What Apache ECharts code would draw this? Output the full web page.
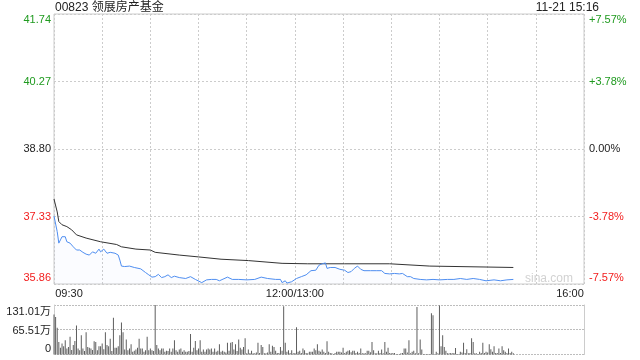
<!DOCTYPE html>
<html>
<head>
<meta charset="utf-8">
<script src="https://cdn.jsdelivr.net/npm/echarts@6/dist/echarts.min.js"></script>
<style>html,body{margin:0;padding:0;background:#fff}#c{width:640px;height:360px}</style>
</head>
<body>
<div id="c"></div>
<script>
// ---- data ----
const titleText = '00823 领展房产基金';
const timeStamp = '11-21 15:16';
const prevClose = 38.80;
const priceTicks = [35.86, 37.33, 38.80, 40.27, 41.74];
const pctLabels = ['-7.57%', '-3.78%', '0.00%', '+3.78%', '+7.57%'];
const timeTickMins = [0, 150, 330];
const timeLabels = ['09:30', '12:00/13:00', '16:00'];
const volTicks = [0, 65.51, 131.01];
const volLabels = ['0', '65.51万', '131.01万'];

// minutes since 09:30 (trading minutes, lunch removed)
const priceT = [0,2,3,4,5,6,7,8,10,12,14,16,18,20,22,24,26,28,29,31,33,35,38,40,41,42,44,47,50,54,57,59,61,63,65,67,69,71,73,75,78,82,85,88,92,95,98,101,103,108,111,115,120,125,129,133,138,141,142,144,145,148,151,154,157,160,163,165,167,169,170,172,175,178,181,183,185,187,189,191,193,197,201,204,206,209,212,215,217,220,222,224,228,232,236,240,245,249,253,257,261,265,269,274,278,282,286];
const priceV = [37.34,37.00,36.75,36.82,36.89,36.86,36.89,36.78,36.75,36.67,36.60,36.60,36.55,36.51,36.49,36.56,36.53,36.62,36.56,36.62,36.53,36.55,36.53,36.49,36.38,36.25,36.24,36.25,36.22,36.19,36.11,36.06,36.01,36.02,36.07,36.00,36.02,36.06,36.00,36.03,36.00,35.98,36.02,35.96,35.89,35.95,35.96,35.96,35.93,36.01,35.96,35.96,35.95,35.96,36.01,35.98,35.96,35.96,35.89,35.93,35.88,35.91,35.98,36.02,36.06,36.15,36.16,36.27,36.30,36.32,36.20,36.22,36.22,36.18,36.16,36.11,36.13,36.20,36.25,36.18,36.15,36.15,36.15,36.15,36.09,36.08,36.09,36.08,36.09,36.02,36.02,35.98,35.96,35.95,35.96,35.95,35.96,35.96,35.98,35.96,35.98,35.96,35.93,35.95,35.93,35.95,35.96];
const avgT = [0,2,3,5,8,11,14,20,29,39,42,51,60,63,78,90,104,121,142,158,181,209,234,286];
const avgV = [37.71,37.43,37.22,37.15,37.11,37.04,36.93,36.86,36.78,36.72,36.67,36.62,36.60,36.55,36.49,36.45,36.40,36.37,36.31,36.30,36.30,36.30,36.25,36.22];
// volume per minute (万), minute 0..286
const volume = [
106,99,71,33,18,29,22,38,16,20,47,12,25,36,
77,
16,11,51,16,9,59,20,18,16,12,35,33,11,22,22,29,14,59,25,22,42,9,
97,
18,18,22,51,85,59,13,40,11,16,27,7,10,13,18,42,16,16,7,11,47,11,16,11,9,
131,
25,16,11,16,16,7,10,9,16,7,16,38,11,7,13,16,7,11,7,7,9,54,7,18,36,11,16,38,7,13,7,13,16,13,
16,7,16,7,10,27,7,10,7,5,31,10,31,33,13,27,9,40,18,13,20,43,3,13,4,10,3,3,5,31,4,25,20,3,3,5,27,7,23,20,10,4,4,20,10,128,31,7,11,4,11,3,4,72,7,10,4,16,11,4,3,7,7,7,16,11,27,10,7,13,7,4,35,7,4,3,1,4,7,7,7,5,18,4,7,10,11,6,10,10,4,7,4,16,3,3,3,10,
10,6,33,11,3,3,10,4,13,3,33,7,18,4,3,4,4,1,1,1,3,4,16,16,5,38,3,7,10,3,126,3,40,13,1,1,1,1,1,109,104,1,7,3,130,22,51,20,10,3,3,4,3,4,17,1,1,7,5,31,4,14,3,4,43,33,3,3,1,7,4,31,4,7,5,27,14,7,22,4,4,16,4,22,11,7,4,16,4,7,3
];

// ---- styles ----
const FONT = '"Liberation Sans", Arial, "Noto Sans CJK SC", sans-serif';
const GREEN = '#1f9a1f', RED = '#f21d1d', BLACK = '#222';
const GRID_LINE = '#cccccc';

const priceData = priceT.map((t, i) => [t, priceV[i]]);
const avgData = avgT.map((t, i) => [t, avgV[i]]);
const volData = volume.map((v, i) => [i, v]);

function tickIndex(arr, v) {
  let best = 0;
  arr.forEach((a, i) => { if (Math.abs(a - v) < Math.abs(arr[best] - v)) best = i; });
  return best;
}
function styleKey(idx) {
  const v = priceTicks[idx];
  const base = v > prevClose + 1e-6 ? 'g' : (v < prevClose - 1e-6 ? 'r' : 'k');
  if (idx === priceTicks.length - 1) return base + 'T';
  if (idx === 0) return base + 'B';
  return base;
}
const priceRich = {
  g: { color: GREEN }, gT: { color: GREEN, padding: [12, 0, 0, 0] }, gB: { color: GREEN, padding: [0, 0, 12, 0] },
  r: { color: RED }, rT: { color: RED, padding: [12, 0, 0, 0] }, rB: { color: RED, padding: [0, 0, 12, 0] },
  k: { color: BLACK }, kT: { color: BLACK, padding: [12, 0, 0, 0] }, kB: { color: BLACK, padding: [0, 0, 12, 0] }
};
Object.values(priceRich).forEach(s => { s.fontSize = 11; s.fontFamily = FONT; });

const chart = echarts.init(document.getElementById('c'), null, { renderer: 'canvas' });
chart.setOption({
  animation: false,
  backgroundColor: '#fff',
  textStyle: { fontFamily: FONT },
  title: [
    { text: titleText, left: 55, top: 2, padding: 0,
      textStyle: { fontSize: 12, fontWeight: 'normal', color: BLACK, fontFamily: FONT } },
    { text: timeStamp, right: 41, top: 2, padding: 0,
      textStyle: { fontSize: 12, fontWeight: 'normal', color: BLACK, fontFamily: FONT } }
  ],
  graphic: [
    { type: 'text', right: 67, top: 273, z: 0,
      style: { text: 'sina.com', fontSize: 12, fill: '#d2d2d2', fontFamily: FONT } }
  ],
  grid: [
    { left: 54, top: 14, width: 530, height: 270, show: true, borderColor: GRID_LINE, borderWidth: 1 },
    { left: 54, top: 305, width: 530, height: 49.5, show: false }
  ],
  xAxis: [
    { type: 'value', gridIndex: 0, min: 0, max: 330, interval: 30,
      axisLine: { show: false }, axisTick: { show: false },
      splitLine: { show: true, lineStyle: { color: GRID_LINE, type: [2, 2] } },
      axisLabel: {
        customValues: timeTickMins, margin: 4, fontSize: 11, color: BLACK, fontFamily: FONT,
        formatter: v => {
          const i = tickIndex(timeTickMins, v);
          return i === 0 ? '{l|' + timeLabels[i] + '}' : (i === timeLabels.length - 1 ? '{r|' + timeLabels[i] + '}' : timeLabels[i]);
        },
        rich: {
          l: { fontSize: 11, color: BLACK, fontFamily: FONT, padding: [0, 0, 0, 30] },
          r: { fontSize: 11, color: BLACK, fontFamily: FONT, padding: [0, 28, 0, 0] }
        }
      }
    },
    { type: 'value', gridIndex: 1, min: 0, max: 330,
      axisLine: { show: false }, axisTick: { show: false }, axisLabel: { show: false },
      splitLine: { show: false }
    }
  ],
  yAxis: [
    { type: 'value', gridIndex: 0, min: priceTicks[0], max: priceTicks[priceTicks.length - 1], position: 'left',
      axisLine: { show: false },
      axisTick: { show: false, customValues: priceTicks },
      splitLine: { show: true, lineStyle: { color: GRID_LINE, type: [2, 2] } },
      axisLabel: {
        customValues: priceTicks, margin: 3, fontSize: 11,
        formatter: v => { const i = tickIndex(priceTicks, v); return '{' + styleKey(i) + '|' + priceTicks[i].toFixed(2) + '}'; },
        rich: priceRich
      }
    },
    { type: 'value', gridIndex: 0, min: priceTicks[0], max: priceTicks[priceTicks.length - 1], position: 'right',
      axisLine: { show: false },
      axisTick: { show: false, customValues: priceTicks },
      splitLine: { show: false },
      axisLabel: {
        customValues: priceTicks, margin: 5, fontSize: 11,
        formatter: v => { const i = tickIndex(priceTicks, v); return '{' + styleKey(i) + '|' + pctLabels[i] + '}'; },
        rich: priceRich
      }
    },
    { type: 'value', gridIndex: 1, min: 0, max: volTicks[volTicks.length - 1], position: 'left',
      axisLine: { show: true, lineStyle: { color: GRID_LINE, type: [2, 1] } },
      axisTick: { show: false, customValues: volTicks },
      splitLine: { show: true, lineStyle: { color: '#bdbdbd', type: [2, 1] } },
      axisLabel: {
        customValues: volTicks, margin: 3, fontSize: 11, color: BLACK,
        formatter: v => {
          const i = tickIndex(volTicks, v);
          if (i === volTicks.length - 1) return '{t|' + volLabels[i] + '}';
          if (i === 0) return '{b|' + volLabels[i] + '}';
          return '{m|' + volLabels[i] + '}';
        },
        rich: {
          t: { fontSize: 11, color: BLACK, fontFamily: FONT, padding: [14, 0, 0, 0] },
          m: { fontSize: 11, color: BLACK, fontFamily: FONT, padding: [3, 0, 0, 0] },
          b: { fontSize: 11, color: BLACK, fontFamily: FONT, padding: [0, 0, 11, 0] }
        }
      }
    },
    { type: 'value', gridIndex: 1, min: 0, max: volTicks[volTicks.length - 1], position: 'right',
      axisLine: { show: true, lineStyle: { color: GRID_LINE } },
      axisTick: { show: false }, axisLabel: { show: false }, splitLine: { show: false }
    }
  ],
  series: [
    { type: 'line', name: 'price', xAxisIndex: 0, yAxisIndex: 0, data: priceData,
      showSymbol: false, lineStyle: { color: '#4f8ef0', width: 1 },
      areaStyle: { color: 'rgba(79,142,240,0.035)', origin: 'start' }, z: 3 },
    { type: 'line', name: 'avg', xAxisIndex: 0, yAxisIndex: 0, data: avgData,
      showSymbol: false, lineStyle: { color: '#333', width: 1 }, z: 2 },
    { type: 'bar', name: 'volume', xAxisIndex: 1, yAxisIndex: 2, data: volData,
      barWidth: 1, itemStyle: { color: '#5e5e5e' } }
  ]
});
</script>
</body>
</html>
